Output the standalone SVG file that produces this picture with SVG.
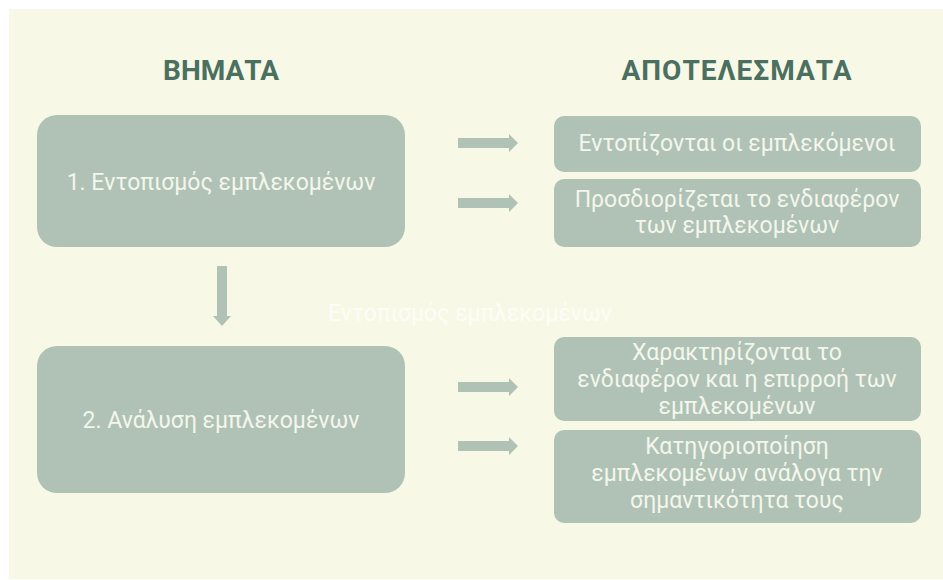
<svg xmlns="http://www.w3.org/2000/svg" width="943" height="580" viewBox="0 0 943 580">
<style>
.box{fill:#afc2b5}
.t{font-family:Roboto,"Liberation Sans",sans-serif;font-size:23px;fill:#f4f6ec;text-anchor:middle;dominant-baseline:central}
.h{font-family:Roboto,"Liberation Sans",sans-serif;font-size:28px;font-weight:bold;fill:#4b6f60;text-anchor:middle;dominant-baseline:central}
.arr{fill:#afc2b5}
</style>
<rect x="0" y="0" width="943" height="580" fill="#ffffff"/>
<rect x="9" y="9" width="934" height="570" fill="#f7f9e6"/>
<text class="h" x="221" y="70">ΒΗΜΑΤΑ</text>
<text class="h" x="737" y="70" letter-spacing="1">ΑΠΟΤΕΛΕΣΜΑΤΑ</text>
<text x="470" y="313" font-family="Roboto,'Liberation Sans',sans-serif" font-size="23" fill="#ffffff" fill-opacity="0.7" text-anchor="middle" dominant-baseline="central">Εντοπισμός εμπλεκομένων</text>
<g id="step1">
<rect class="box" x="37" y="115" width="368" height="132" rx="20"/>
<text class="t" x="221" y="182">1. Εντοπισμός εμπλεκομένων</text>
</g>
<g id="step2">
<rect class="box" x="37" y="346" width="368" height="147" rx="20"/>
<text class="t" x="221" y="420">2. Ανάλυση εμπλεκομένων</text>
</g>
<g id="res1">
<rect class="box" x="554" y="116" width="367" height="56" rx="10"/>
<text class="t" x="737" y="143">Εντοπίζονται οι εμπλεκόμενοι</text>
</g>
<g id="res2">
<rect class="box" x="554" y="179" width="367" height="68" rx="10"/>
<text class="t" x="737" y="199">Προσδιορίζεται το ενδιαφέρον</text>
<text class="t" x="737" y="225">των εμπλεκομένων</text>
</g>
<g id="res3">
<rect class="box" x="554" y="337" width="367" height="84" rx="10"/>
<text class="t" x="737" y="352">Χαρακτηρίζονται το</text>
<text class="t" x="737" y="379">ενδιαφέρον και η επιρροή των</text>
<text class="t" x="737" y="406">εμπλεκομένων</text>
</g>
<g id="res4">
<rect class="box" x="554" y="430" width="367" height="93" rx="10"/>
<text class="t" x="737" y="446">Κατηγοριοποίηση</text>
<text class="t" x="737" y="473">εμπλεκομένων ανάλογα την</text>
<text class="t" x="737" y="500">σημαντικότητα τους</text>
</g>
<g id="connectors">
<path class="arr" d="M458 138 H509 V134 L518 143 L509 152 V148 H458 Z"/>
<path class="arr" d="M458 198 H509 V194 L518 203 L509 212 V208 H458 Z"/>
<path class="arr" d="M458 382 H509 V378 L518 387 L509 396 V392 H458 Z"/>
<path class="arr" d="M458 441 H509 V437 L518 446 L509 455 V451 H458 Z"/>
<path class="arr" d="M217 266 V316 H213 L222 326 L231 316 H227 V266 Z"/>
</g>
</svg>
